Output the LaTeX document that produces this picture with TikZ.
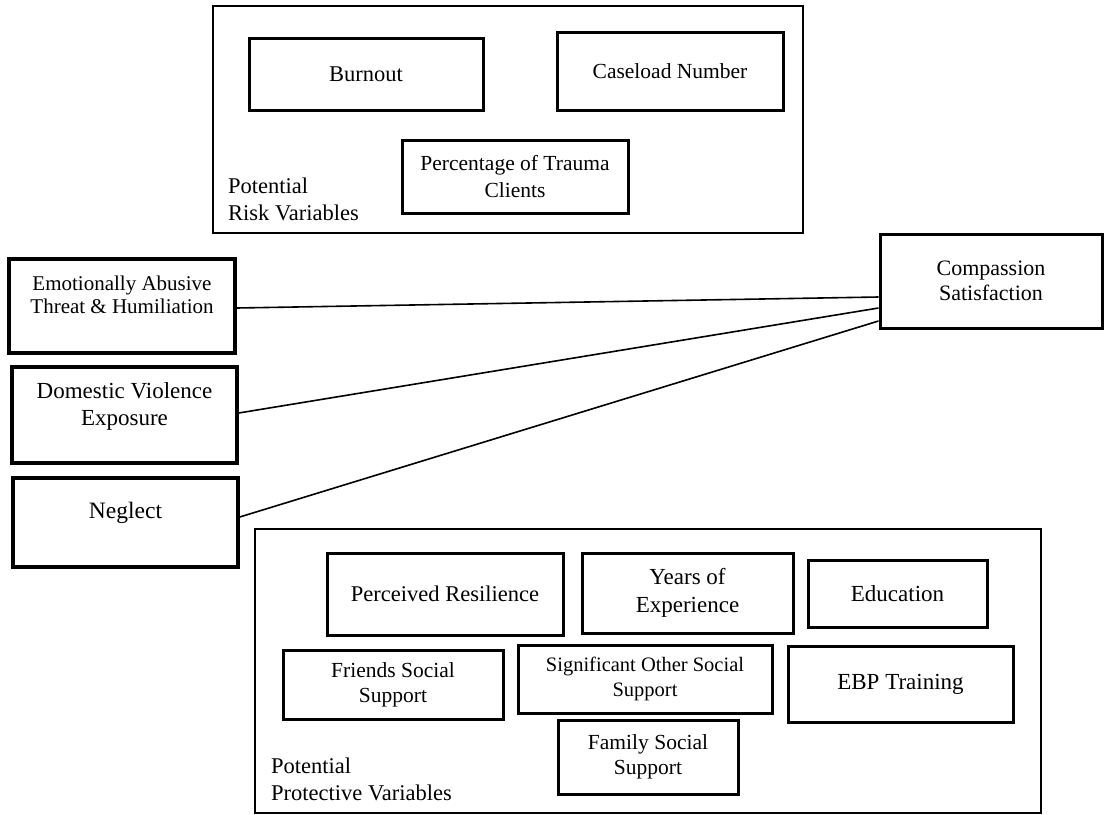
\documentclass[tikz,border=0pt]{standalone}
\usepackage{fontspec}
\setmainfont{Liberation Serif}
\usetikzlibrary{calc}
\newcommand{\fsz}[2]{\fontsize{#1}{#2}\selectfont}
\begin{document}
\begin{tikzpicture}[x=1pt,y=-1pt,
  box/.style={draw=black, line width=3pt, inner sep=0pt, align=center},
  grp/.style={draw=black, line width=2.5pt, inner sep=0pt},
  lbl/.style={inner sep=0pt, align=center},
  grplbl/.style={inner sep=0pt, align=left, anchor=west, font=\fsz{22.5}{27}},
  link/.style={draw=black, line width=1.6pt}
]
\useasboundingbox (0,0) rectangle (1105,814);

% Risk group
\node[grp, minimum width=590pt, minimum height=227pt] (risk) at (508,119.5) {};
\node[box, minimum width=234pt, minimum height=72pt, font=\fsz{22.5}{26}] (burn) at (366,74) {Burnout};
\node[box, minimum width=226pt, minimum height=78pt, font=\fsz{21.5}{26}] (case) at (670,71) {Caseload Number};
\node[box, minimum width=226pt, minimum height=73pt, font=\fsz{21.5}{27}] (perc) at (515,176.5) {Percentage of Trauma\\Clients};
\node[grplbl] (risklbl) at (228,199) {Potential\\Risk Variables};

% Left predictors
\node[box, line width=3.5pt, minimum width=226pt, minimum height=94pt] (emo) at (122,306) {};
\node[lbl, font=\fsz{21}{23.5}] (emotxt) at (122,295) {Emotionally Abusive\\Threat \& Humiliation};
\node[box, line width=3.5pt, minimum width=225pt, minimum height=96pt] (dom) at (124.5,415) {};
\node[lbl, font=\fsz{23}{27}] (domtxt) at (124.5,406) {Domestic Violence\\Exposure};
\node[box, line width=3.5pt, minimum width=225pt, minimum height=89pt] (neg) at (125.5,522.5) {};
\node[lbl, font=\fsz{23.5}{27}] (negtxt) at (125.5,513) {Neglect};

% Outcome
\node[box, minimum width=222pt, minimum height=94pt, font=\fsz{22}{25}] (comp) at (991,281) {Compassion\\Satisfaction};

% Protective group
\node[grp, minimum width=786pt, minimum height=284pt] (prot) at (648,671) {};
\node[box, minimum width=236pt, minimum height=82pt, font=\fsz{22.5}{27}] (res) at (445,594) {Perceived Resilience};
\node[box, minimum width=211pt, minimum height=80pt, font=\fsz{23}{28}] (years) at (687.5,593) {Years of\\Experience};
\node[box, minimum width=179pt, minimum height=67pt, font=\fsz{23}{27}] (edu) at (897.5,593.5) {Education};
\node[box, minimum width=220pt, minimum height=69pt, font=\fsz{21.5}{25}] (friends) at (393,684.5) {Friends Social\\Support};
\node[box, minimum width=254pt, minimum height=68pt, font=\fsz{20.5}{25}] (sig) at (645,679) {Significant Other Social\\Support};
\node[box, minimum width=225pt, minimum height=76pt, font=\fsz{23}{27}] (ebp) at (900.5,684) {EBP Training};
\node[box, minimum width=180pt, minimum height=74pt, font=\fsz{21.5}{25}] (fam) at (648,757) {Family Social\\Support};
\node[grplbl] (protlbl) at (271,779) {Potential\\Protective Variables};

% Connectors
\draw[link] ([yshift=-2pt]emo.east) -- ([yshift=-16pt]comp.west);
\draw[link] ([yshift=2pt]dom.east) -- ([yshift=-27pt]comp.west);
\draw[link] ([yshift=5.5pt]neg.east) -- ([yshift=-40pt]comp.west);
\end{tikzpicture}
\end{document}
